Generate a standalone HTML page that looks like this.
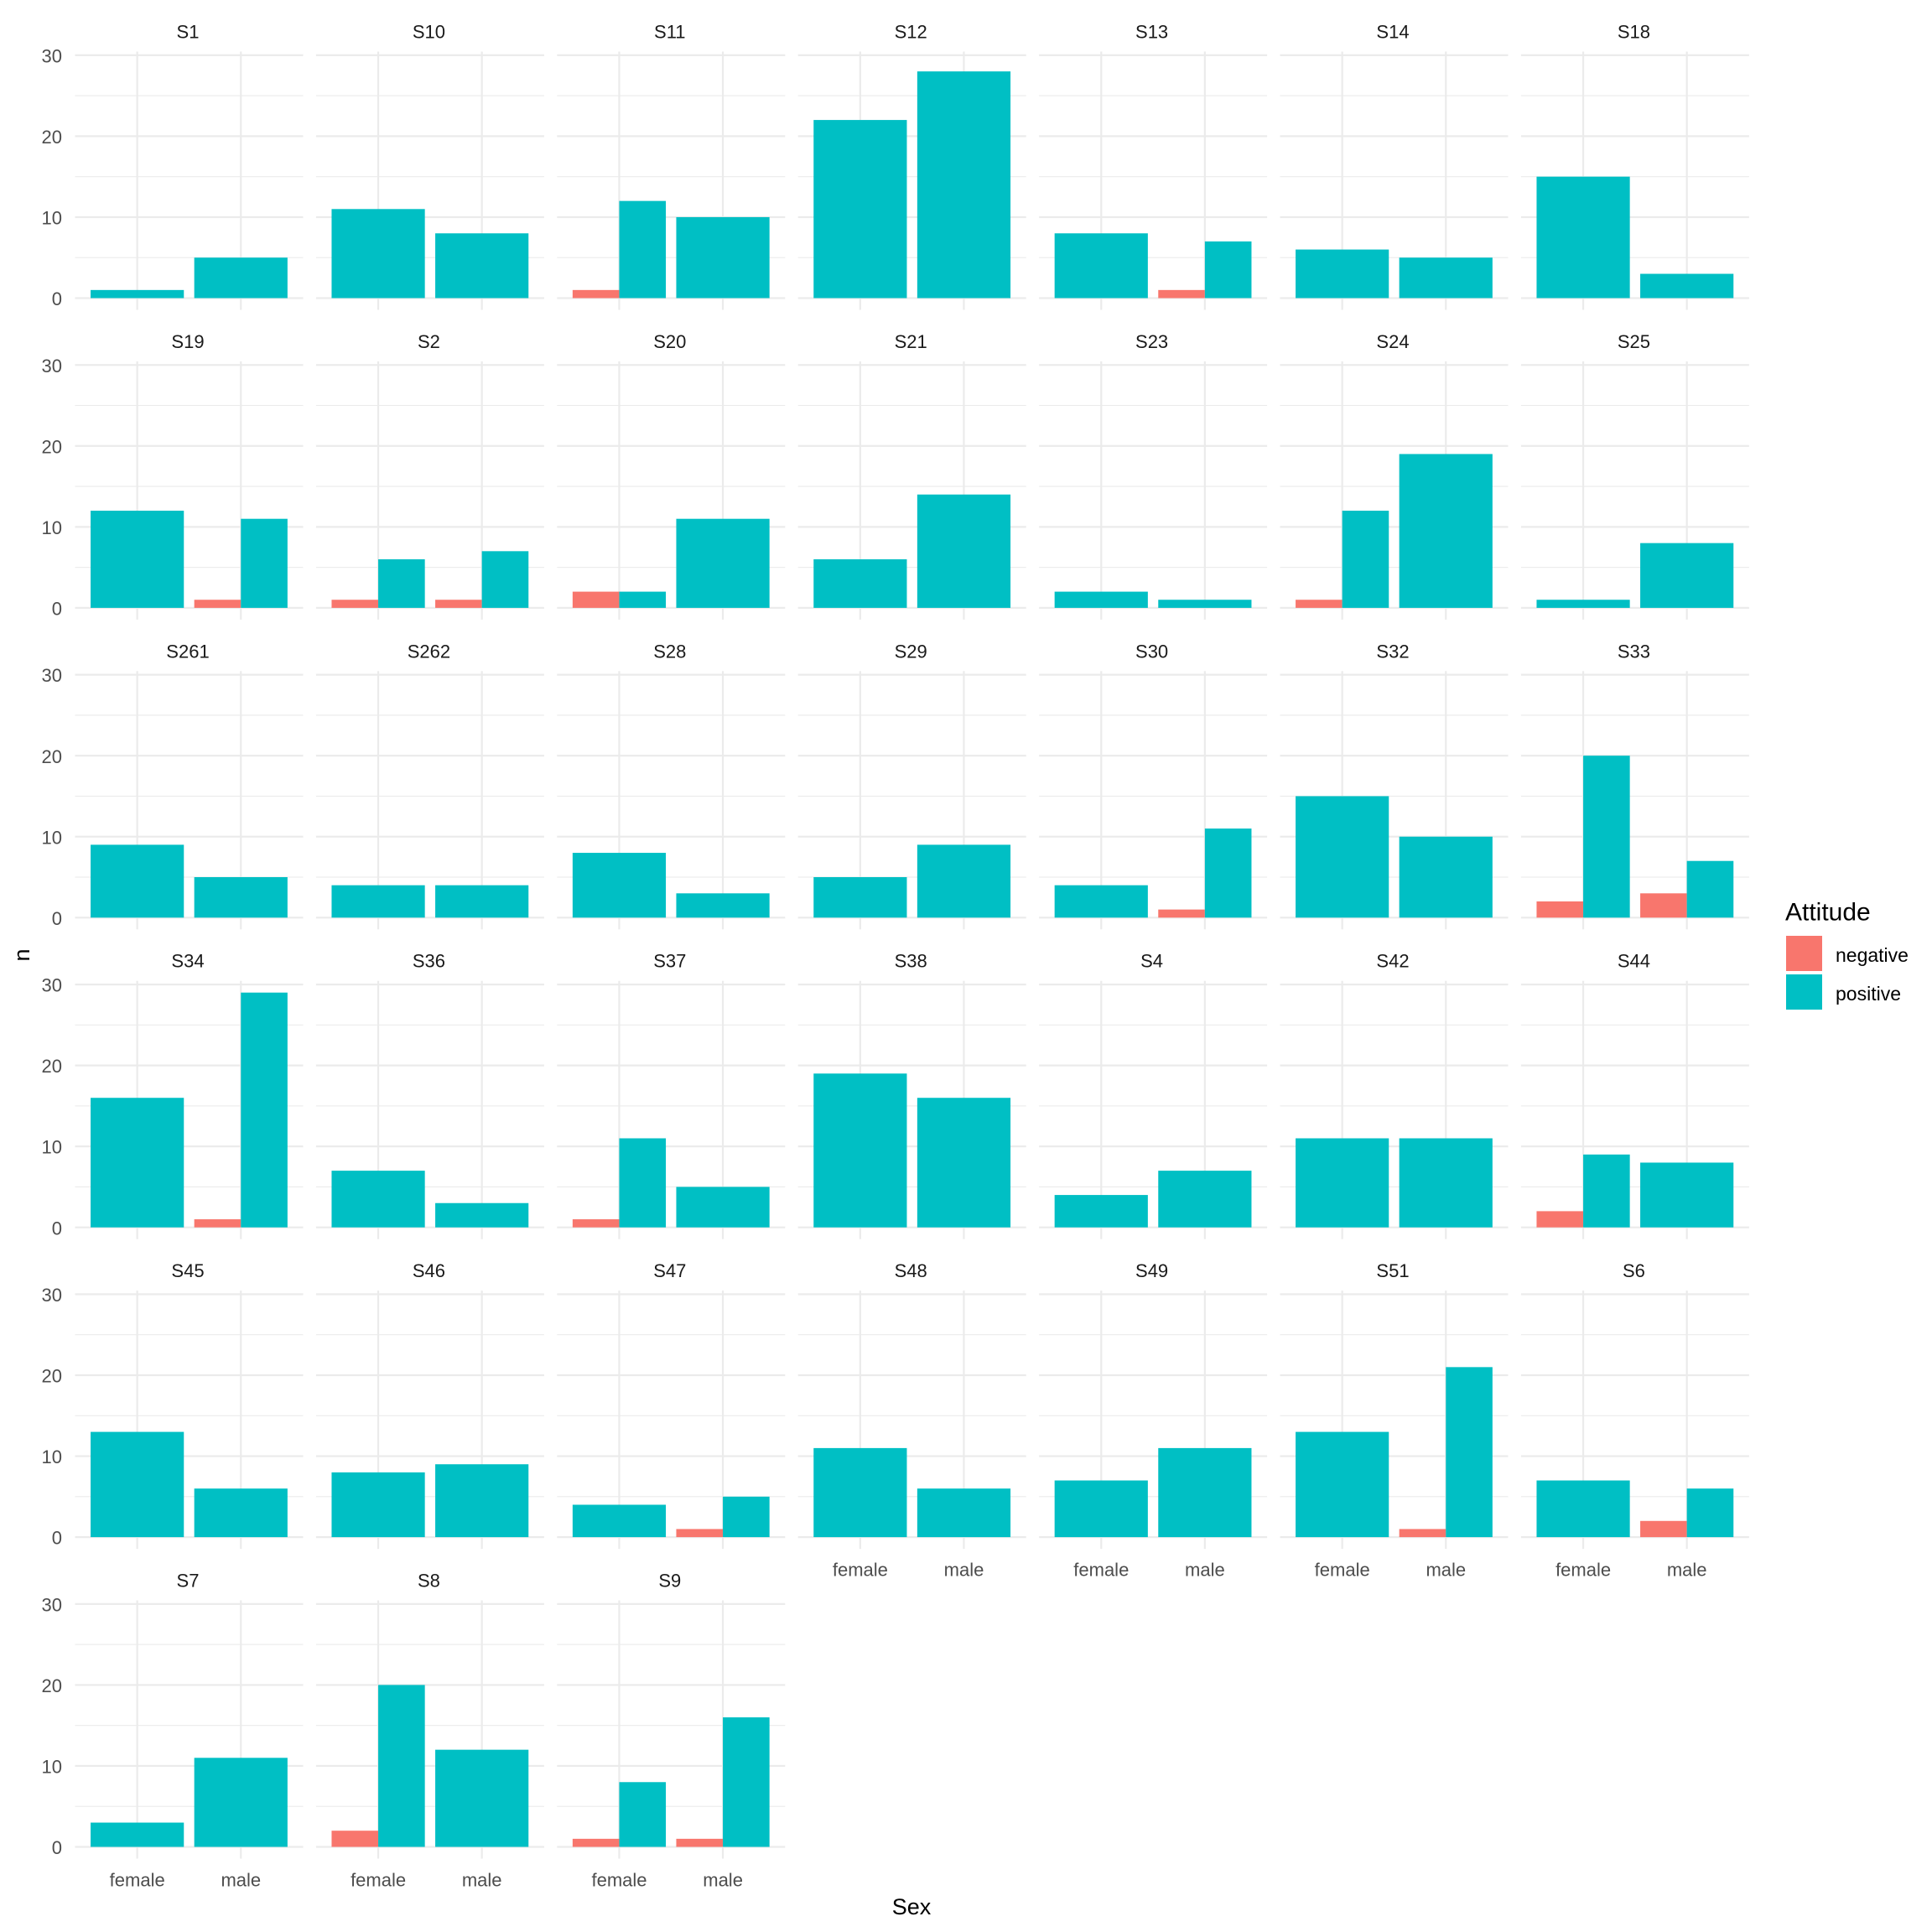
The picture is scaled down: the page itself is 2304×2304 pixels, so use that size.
<!DOCTYPE html>
<html><head><meta charset="utf-8"><style>
html,body{margin:0;padding:0;background:#fff;}
svg{display:block;font-family:"Liberation Sans",Arial,sans-serif;}
.st{font-size:22px;fill:#1a1a1a;text-anchor:middle;dominant-baseline:central;}
.tk{font-size:22px;fill:#4d4d4d;text-anchor:end;dominant-baseline:central;}
.xl{font-size:22px;fill:#4d4d4d;text-anchor:middle;dominant-baseline:central;}
</style></head><body>
<svg id="s" width="2304" height="2304" viewBox="0 0 2304 2304" xmlns="http://www.w3.org/2000/svg">
<rect width="2304" height="2304" fill="#fff"/>
<g transform="translate(1.5,1.5)"><g id="grid"></g>
<g id="bars"></g></g>
<g>
<text class="st" x="224" y="38">S1</text><text class="st" x="511.4" y="38">S10</text><text class="st" x="798.8" y="38">S11</text><text class="st" x="1086.2" y="38">S12</text><text class="st" x="1373.6" y="38">S13</text><text class="st" x="1661" y="38">S14</text><text class="st" x="1948.4" y="38">S18</text>
<text class="st" x="224" y="407.4">S19</text><text class="st" x="511.4" y="407.4">S2</text><text class="st" x="798.8" y="407.4">S20</text><text class="st" x="1086.2" y="407.4">S21</text><text class="st" x="1373.6" y="407.4">S23</text><text class="st" x="1661" y="407.4">S24</text><text class="st" x="1948.4" y="407.4">S25</text>
<text class="st" x="224" y="776.8">S261</text><text class="st" x="511.4" y="776.8">S262</text><text class="st" x="798.8" y="776.8">S28</text><text class="st" x="1086.2" y="776.8">S29</text><text class="st" x="1373.6" y="776.8">S30</text><text class="st" x="1661" y="776.8">S32</text><text class="st" x="1948.4" y="776.8">S33</text>
<text class="st" x="224" y="1146.2">S34</text><text class="st" x="511.4" y="1146.2">S36</text><text class="st" x="798.8" y="1146.2">S37</text><text class="st" x="1086.2" y="1146.2">S38</text><text class="st" x="1373.6" y="1146.2">S4</text><text class="st" x="1661" y="1146.2">S42</text><text class="st" x="1948.4" y="1146.2">S44</text>
<text class="st" x="224" y="1515.6">S45</text><text class="st" x="511.4" y="1515.6">S46</text><text class="st" x="798.8" y="1515.6">S47</text><text class="st" x="1086.2" y="1515.6">S48</text><text class="st" x="1373.6" y="1515.6">S49</text><text class="st" x="1661" y="1515.6">S51</text><text class="st" x="1948.4" y="1515.6">S6</text>
<text class="st" x="224" y="1885">S7</text><text class="st" x="511.4" y="1885">S8</text><text class="st" x="798.8" y="1885">S9</text>
</g>
<g><text class="tk" x="74" y="356.6">0</text><text class="tk" x="74" y="260">10</text><text class="tk" x="74" y="163.5">20</text><text class="tk" x="74" y="66.9">30</text></g>
<g transform="translate(0,369.4)"><text class="tk" x="74" y="356.6">0</text><text class="tk" x="74" y="260">10</text><text class="tk" x="74" y="163.5">20</text><text class="tk" x="74" y="66.9">30</text></g>
<g transform="translate(0,738.8)"><text class="tk" x="74" y="356.6">0</text><text class="tk" x="74" y="260">10</text><text class="tk" x="74" y="163.5">20</text><text class="tk" x="74" y="66.9">30</text></g>
<g transform="translate(0,1108.2)"><text class="tk" x="74" y="356.6">0</text><text class="tk" x="74" y="260">10</text><text class="tk" x="74" y="163.5">20</text><text class="tk" x="74" y="66.9">30</text></g>
<g transform="translate(0,1477.6)"><text class="tk" x="74" y="356.6">0</text><text class="tk" x="74" y="260">10</text><text class="tk" x="74" y="163.5">20</text><text class="tk" x="74" y="66.9">30</text></g>
<g transform="translate(0,1847)"><text class="tk" x="74" y="356.6">0</text><text class="tk" x="74" y="260">10</text><text class="tk" x="74" y="163.5">20</text><text class="tk" x="74" y="66.9">30</text></g>
<text class="xl" x="163.7" y="2242">female</text><text class="xl" x="287.3" y="2242">male</text>
<text class="xl" x="451.1" y="2242">female</text><text class="xl" x="574.7" y="2242">male</text>
<text class="xl" x="738.5" y="2242">female</text><text class="xl" x="862.1" y="2242">male</text>
<text class="xl" x="1025.9" y="1872">female</text><text class="xl" x="1149.5" y="1872">male</text>
<text class="xl" x="1313.3" y="1872">female</text><text class="xl" x="1436.9" y="1872">male</text>
<text class="xl" x="1600.7" y="1872">female</text><text class="xl" x="1724.3" y="1872">male</text>
<text class="xl" x="1888.1" y="1872">female</text><text class="xl" x="2011.7" y="1872">male</text>
<text x="1087" y="2274" font-size="27" fill="#000" text-anchor="middle" dominant-baseline="central">Sex</text>
<text x="26" y="1139" font-size="27" fill="#000" text-anchor="middle" dominant-baseline="central" transform="rotate(-90 26 1139)">n</text>
<text x="2129" y="1088" font-size="30" fill="#000" dominant-baseline="central">Attitude</text>
<rect x="2130" y="1116" width="43" height="42" fill="#F8766D"/>
<rect x="2130" y="1162" width="43" height="42" fill="#00BFC4"/>
<text x="2189" y="1139" font-size="23" fill="#000" dominant-baseline="central">negative</text>
<text x="2189" y="1185" font-size="23" fill="#000" dominant-baseline="central">positive</text>
</svg>
<script>
(function(){
var NS="http://www.w3.org/2000/svg";
var grid=document.getElementById("grid"),bars=document.getElementById("bars");
var D=[
[[0,1,0,5],[0,11,0,8],[1,12,0,10],[0,22,0,28],[0,8,1,7],[0,6,0,5],[0,15,0,3]],
[[0,12,1,11],[1,6,1,7],[2,2,0,11],[0,6,0,14],[0,2,0,1],[1,12,0,19],[0,1,0,8]],
[[0,9,0,5],[0,4,0,4],[0,8,0,3],[0,5,0,9],[0,4,1,11],[0,15,0,10],[2,20,3,7]],
[[0,16,1,29],[0,7,0,3],[1,11,0,5],[0,19,0,16],[0,4,0,7],[0,11,0,11],[2,9,0,8]],
[[0,13,0,6],[0,8,0,9],[0,4,1,5],[0,11,0,6],[0,7,0,11],[0,13,1,21],[0,7,2,6]],
[[0,3,0,11],[2,20,0,12],[1,8,1,16]]
];
function R(p,x,y,w,h,f){var r=document.createElementNS(NS,"rect");r.setAttribute("x",x);r.setAttribute("y",y);r.setAttribute("width",w);r.setAttribute("height",h);r.setAttribute("fill",f);p.appendChild(r);}
var U=9.655,PW=272,UNIT=123.6,BW=111.2;
for(var r=0;r<D.length;r++){for(var c=0;c<D[r].length;c++){
 var xl=88+c*287.4,top=60+r*369.4,z=top+294;
 for(var k=0;k<=6;k++){var y=z-k*5*U;var th=(k%2==0)?2.2:1.1;R(grid,xl,y-th/2,PW,th,"#ebebeb");}
 var cx=[xl+0.6*UNIT,xl+1.6*UNIT];
 for(var i=0;i<2;i++)R(grid,cx[i]-1.1,top,2.2,308,"#ebebeb");
 var d=D[r][c];
 for(var g=0;g<2;g++){var neg=d[g*2],pos=d[g*2+1],L=cx[g]-BW/2;
  if(neg>0&&pos>0){R(bars,L,z-neg*U,BW/2,neg*U,"#F8766D");R(bars,L+BW/2,z-pos*U,BW/2,pos*U,"#00BFC4");}
  else if(pos>0){R(bars,L,z-pos*U,BW,pos*U,"#00BFC4");}
  else if(neg>0){R(bars,L,z-neg*U,BW,neg*U,"#F8766D");}
 }
}}
})();
</script>
</body></html>
